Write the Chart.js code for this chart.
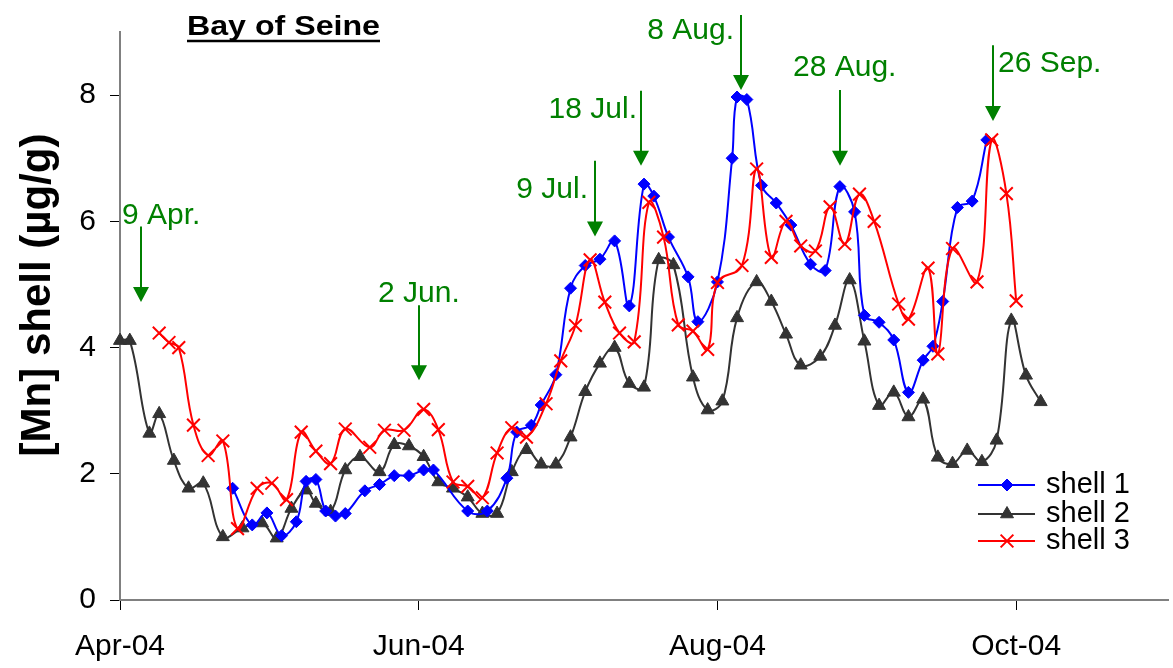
<!DOCTYPE html>
<html>
<head>
<meta charset="utf-8">
<title>Bay of Seine - Mn in shells</title>
<script src="https://cdn.jsdelivr.net/npm/chart.js@4.4.1/dist/chart.umd.min.js"></script>
<style>
  html, body { margin: 0; padding: 0; background: #fff; }
</style>
</head>
<body>
<canvas id="mnChart" width="1173" height="668"></canvas>
<script>
// days are counted from 1 Apr 2004
var monthTicks = [0, 61, 122, 183];
var monthLabels = ['Apr-04', 'Jun-04', 'Aug-04', 'Oct-04'];
var yTicks = [0, 2, 4, 6, 8];

var shell1Days = [23,27,30,33,36,38,40,42,44,46,50,53,56,59,62,64,71,75,79,81,84,86,89,92,95,98,101,104,107,109,112,116,118,122,125,126,128,131,134,137,141,144,147,150,152,155,158,161,164,166,168,171,174,177];
var shell1Mn = [1.77,1.19,1.38,1.02,1.24,1.88,1.91,1.41,1.33,1.37,1.73,1.83,1.97,1.97,2.06,2.06,1.41,1.41,1.93,2.66,2.77,3.09,3.57,4.94,5.30,5.40,5.69,4.66,6.59,6.40,5.75,5.12,4.41,5.04,7.00,7.97,7.93,6.57,6.29,5.94,5.32,5.22,6.55,6.15,4.51,4.40,4.12,3.29,3.80,4.02,4.73,6.22,6.32,7.29];

var shell2Days = [0,2,6,8,11,14,17,21,25,29,32,35,38,40,43,46,49,53,56,59,62,65,68,71,74,77,80,83,86,89,92,95,98,101,104,107,110,113,117,120,123,126,130,133,136,139,143,146,149,152,155,158,161,164,167,170,173,176,179,182,185,188];
var shell2Mn = [4.11,4.11,2.64,2.95,2.21,1.77,1.85,1.00,1.14,1.22,0.98,1.45,1.74,1.53,1.40,2.06,2.27,2.03,2.46,2.44,2.27,1.87,1.77,1.63,1.37,1.37,2.03,2.38,2.15,2.15,2.58,3.30,3.75,4.00,3.43,3.37,5.39,5.31,3.53,3.01,3.15,4.47,5.04,4.73,4.21,3.72,3.86,4.35,5.07,4.10,3.08,3.29,2.90,3.18,2.26,2.16,2.37,2.19,2.53,4.43,3.56,3.14];

var shell3Days = [8,10,12,15,18,21,24,28,31,34,37,40,43,46,51,54,58,62,65,68,71,74,77,80,83,87,90,93,96,99,102,105,108,111,114,117,120,122,127,130,133,136,139,142,145,148,151,154,159,161,165,167,170,175,178,181,183];
var shell3Mn = [4.23,4.08,4.00,2.77,2.29,2.52,1.13,1.77,1.85,1.59,2.66,2.36,2.16,2.71,2.42,2.69,2.69,3.02,2.70,1.87,1.80,1.62,2.33,2.73,2.58,3.11,3.79,4.35,5.39,4.72,4.23,4.09,6.30,5.75,4.36,4.26,3.97,5.03,5.30,6.83,5.43,6.00,5.61,5.53,6.23,5.64,6.43,6.00,4.69,4.45,5.26,3.90,5.57,5.04,7.29,6.44,4.74];

// sampling events marked with arrows
var eventLabels = ['9 Apr.', '2 Jun.', '9 Jul.', '18 Jul.', '8 Aug.', '28 Aug.', '26 Sep.'];
var eventDays = [4.2, 61.1, 97.0, 106.3, 126.8, 147.0, 178.3];
var arrowTop = [5.92, 4.67, 6.96, 8.07, 9.27, 8.08, 8.79];
var arrowTip = [4.72, 3.48, 5.76, 6.88, 8.08, 6.88, 7.59];
// [align, dx, dy] of each label relative to the arrow's top, px
var labelOffsets = [['left', -19, -2], ['left', -41, -3], ['right', -7, 37], ['right', -4, 27],
                    ['right', -7, 24], ['left', -47, -14], ['left', 5, 27]];

var FONT = 'Arial, "Liberation Sans", sans-serif';
var GREEN = '#008000';

function toPoints(days, vals) {
  return days.map(function (d, i) { return { x: d, y: vals[i] }; });
}

var extrasPlugin = {
  id: 'extras',
  afterDatasetsDraw: function (chart) {
    var ctx = chart.ctx, xs = chart.scales.x, ys = chart.scales.y;
    ctx.save();

    // event arrows
    ctx.strokeStyle = GREEN;
    ctx.fillStyle = GREEN;
    ctx.lineWidth = 2;
    ctx.font = '30px ' + FONT;
    ctx.textBaseline = 'alphabetic';
    for (var i = 0; i < eventLabels.length; i++) {
      var x = Math.round(xs.getPixelForValue(eventDays[i]));
      var y0 = ys.getPixelForValue(arrowTop[i]);
      var y1 = ys.getPixelForValue(arrowTip[i]);
      ctx.beginPath();
      ctx.moveTo(x, y0);
      ctx.lineTo(x, y1 - 12);
      ctx.stroke();
      ctx.beginPath();
      ctx.moveTo(x - 8, y1 - 15);
      ctx.lineTo(x + 8, y1 - 15);
      ctx.lineTo(x, y1);
      ctx.closePath();
      ctx.fill();
      var o = labelOffsets[i];
      ctx.textAlign = o[0];
      ctx.fillText(eventLabels[i], x + o[1], y0 + o[2]);
    }

    // title, underlined
    ctx.fillStyle = '#000';
    ctx.strokeStyle = '#000';
    ctx.font = 'bold 28px ' + FONT;
    ctx.textAlign = 'left';
    var tw = ctx.measureText('Bay of Seine').width;
    ctx.save();
    ctx.translate(187, 35);
    ctx.scale(193 / tw, 1);
    ctx.fillText('Bay of Seine', 0, 0);
    ctx.restore();
    ctx.lineWidth = 2.5;
    ctx.beginPath();
    ctx.moveTo(187, 41);
    ctx.lineTo(380, 41);
    ctx.stroke();

    // y axis title
    ctx.save();
    ctx.translate(38, 295);
    ctx.rotate(-Math.PI / 2);
    ctx.font = 'bold 42px ' + FONT;
    ctx.textAlign = 'center';
    ctx.textBaseline = 'middle';
    ctx.fillText('[Mn] shell (\u00b5g/g)', 0, 0);
    ctx.restore();

    // legend: line sample with marker
    var rows = [485, 514, 541];
    chart.data.datasets.forEach(function (ds, k) {
      var y = rows[k];
      ctx.strokeStyle = ds.borderColor;
      ctx.lineWidth = 2;
      ctx.beginPath();
      ctx.moveTo(978, y);
      ctx.lineTo(1035, y);
      ctx.stroke();
      ctx.fillStyle = ds.backgroundColor;
      ctx.lineWidth = ds.pointBorderWidth;
      Chart.helpers.drawPoint(ctx, { pointStyle: ds.pointStyle, radius: ds.pointRadius, rotation: 0, borderWidth: ds.pointBorderWidth }, 1007, y);
      ctx.fillStyle = '#000';
      ctx.font = '29px ' + FONT;
      ctx.textAlign = 'left';
      ctx.textBaseline = 'middle';
      ctx.fillText(ds.label, 1046, y);
    });
    ctx.restore();
  }
};

new Chart(document.getElementById('mnChart'), {
  type: 'line',
  data: {
    datasets: [{
      label: 'shell 1',
      data: toPoints(shell1Days, shell1Mn),
      borderColor: '#0000ff',
      backgroundColor: '#0000ff',
      pointStyle: 'rectRot',
      pointRadius: 6,
      pointBorderWidth: 1,
      borderWidth: 2,
      tension: 0.4,
      clip: false,
      order: 1
    }, {
      label: 'shell 2',
      data: toPoints(shell2Days, shell2Mn),
      borderColor: '#333333',
      backgroundColor: '#333333',
      pointStyle: 'triangle',
      pointRadius: 7.5,
      pointBorderWidth: 1,
      borderWidth: 2,
      tension: 0.4,
      clip: false,
      order: 2
    }, {
      label: 'shell 3',
      data: toPoints(shell3Days, shell3Mn),
      borderColor: '#ff0000',
      backgroundColor: '#ff0000',
      pointStyle: 'crossRot',
      pointRadius: 9,
      pointBorderWidth: 2,
      borderWidth: 2,
      tension: 0.4,
      clip: false,
      order: 0
    }]
  },
  options: {
    responsive: false,
    animation: false,
    layout: { autoPadding: false, padding: { top: 31, right: 5, left: 0, bottom: 0 } },
    plugins: { legend: { display: false }, tooltip: { enabled: false } },
    scales: {
      x: {
        type: 'linear',
        min: 0,
        max: 214,
        afterBuildTicks: function (s) { s.ticks = monthTicks.map(function (v) { return { value: v }; }); },
        afterFit: function (s) { s.height = 68; },
        ticks: {
          callback: function (v) { return monthLabels[monthTicks.indexOf(v)]; },
          font: { family: FONT, size: 30 },
          color: '#000',
          padding: 19,
          maxRotation: 0,
          autoSkip: false
        },
        grid: { drawOnChartArea: false, tickLength: 10, color: '#000', lineWidth: 1 },
        border: { color: '#808080', width: 2 }
      },
      y: {
        min: 0,
        max: 9,
        afterBuildTicks: function (s) { s.ticks = yTicks.map(function (v) { return { value: v }; }); },
        afterFit: function (s) { s.width = 120; },
        ticks: {
          font: { family: FONT, size: 30 },
          color: '#000',
          padding: 14
        },
        grid: { drawOnChartArea: false, tickLength: 10, color: '#000', lineWidth: 1 },
        border: { color: '#808080', width: 2 }
      }
    }
  },
  plugins: [extrasPlugin]
});
</script>
</body>
</html>
